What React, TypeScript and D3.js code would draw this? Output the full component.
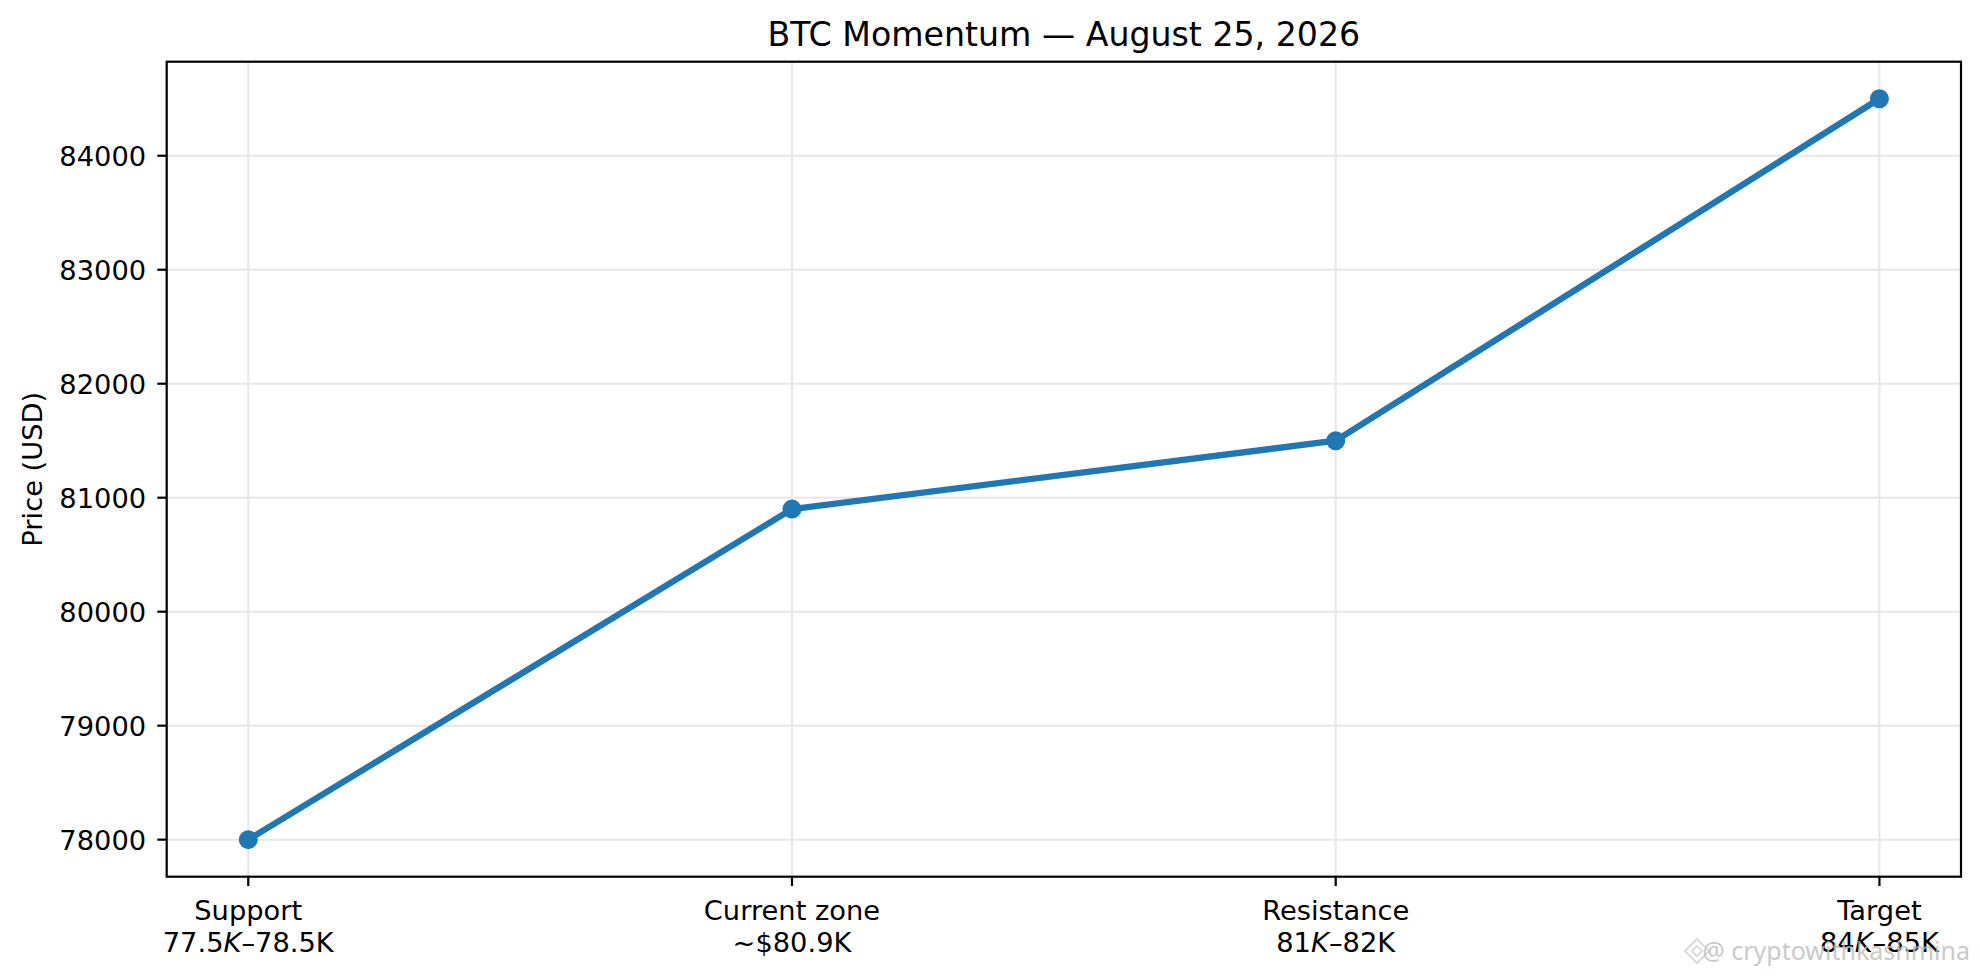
import * as d3 from 'd3';

// chart data
const levels = ['Support', 'Current zone', 'Resistance', 'Target'];
const ranges = ['$77.5K–$78.5K', '~$80.9K', '$81K–$82K', '$84K–$85K'];
const prices = [78000, 80900, 81500, 84500];
const yTicks = [78000, 79000, 80000, 81000, 82000, 83000, 84000];

const W = 1980;
const H = 977;
const margin = { left: 166.7, right: 19, top: 61.7, bottom: 100.3 };
const font = '"DejaVu Sans", sans-serif';
const blue = '#1f77b4';
const gridColor = '#e7e7e7';
const fs = 27.3;

// mimic matplotlib mathtext: text between a pair of $ is math, letters italic
function mathSegments(raw: string) {
  const count = (raw.match(/\$/g) || []).length;
  if (count < 2) return [{ text: raw, italic: false }];
  const parts = raw.split('$');
  const out: { text: string; italic: boolean }[] = [];
  parts.forEach((p, i) => {
    const isMath = i % 2 === 1 && i < parts.length - 1;
    if (!isMath) {
      if (p) out.push({ text: p, italic: false });
      return;
    }
    p.split(/([A-Za-z]+)/).forEach((s) => {
      if (s) out.push({ text: s, italic: /[A-Za-z]/.test(s) });
    });
  });
  return out;
}

export default function App() {
  const x = d3
    .scaleLinear()
    .domain([-0.15, levels.length - 1 + 0.15])
    .range([margin.left, W - margin.right]);

  const yMin = d3.min(prices)!;
  const yMax = d3.max(prices)!;
  const pad = (yMax - yMin) * 0.05;
  const y = d3
    .scaleLinear()
    .domain([yMin - pad, yMax + pad])
    .range([H - margin.bottom, margin.top]);

  const line = d3
    .line<number>()
    .x((_, i) => x(i))
    .y((d) => y(d));

  const [x0, x1] = x.range();
  const [yb, yt] = y.range();

  return (
    <svg
      width={W}
      height={H}
      viewBox={`0 0 ${W} ${H}`}
      style={{ position: 'absolute', left: 0, top: 0, background: '#fff' }}
      fontFamily={font}
    >
      <rect x={0} y={0} width={W} height={H} fill='#fff' />

      {/* grid */}
      {yTicks.map((t) => (
        <line key={'gy' + t} x1={x0} x2={x1} y1={y(t)} y2={y(t)} stroke={gridColor} strokeWidth={2} />
      ))}
      {levels.map((_, i) => (
        <line key={'gx' + i} x1={x(i)} x2={x(i)} y1={yt} y2={yb} stroke={gridColor} strokeWidth={2} />
      ))}

      {/* series */}
      <path d={line(prices) ?? ''} fill='none' stroke={blue} strokeWidth={6.3} strokeLinejoin='round' strokeLinecap='butt' />
      {prices.map((p, i) => (
        <circle key={'pt' + i} cx={x(i)} cy={y(p)} r={9.5} fill={blue} />
      ))}

      {/* spines */}
      <rect x={x0} y={yt} width={x1 - x0} height={yb - yt} fill='none' stroke='#000' strokeWidth={2.2} />

      {/* y axis */}
      {yTicks.map((t) => (
        <g key={'ty' + t}>
          <line x1={x0 - 9.4} x2={x0} y1={y(t)} y2={y(t)} stroke='#000' strokeWidth={2.2} />
          <text x={x0 - 20.5} y={y(t) + 9.9} textAnchor='end' fontSize={fs} fill='#000'>
            {t}
          </text>
        </g>
      ))}
      <text
        transform={`translate(${42},${(yt + yb) / 2}) rotate(-90)`}
        textAnchor='middle'
        fontSize={fs}
        fill='#000'
      >
        Price (USD)
      </text>

      {/* x axis */}
      {levels.map((lv, i) => (
        <g key={'tx' + i}>
          <line x1={x(i)} x2={x(i)} y1={yb} y2={yb + 9.4} stroke='#000' strokeWidth={2.2} />
          <text x={x(i)} y={919.5} textAnchor='middle' fontSize={fs} fill='#000'>
            {lv}
          </text>
          <text x={x(i)} y={951.5} textAnchor='middle' fontSize={fs} fill='#000'>
            {mathSegments(ranges[i]).map((s, k) => (
              <tspan key={k} fontStyle={s.italic ? 'italic' : 'normal'}>
                {s.text}
              </tspan>
            ))}
          </text>
        </g>
      ))}

      {/* title */}
      <text x={(x0 + x1) / 2} y={45.7} textAnchor='middle' fontSize={33.2} fill='#000'>
        BTC Momentum — August 25, 2026
      </text>

      {/* watermark */}
      <g opacity={0.8}>
        <g transform='translate(1697,951)' fill='none' stroke='#c8c8c8' strokeWidth={1.6}>
          <path d='M0,-12 L12,0 L0,12 L-12,0 Z' />
          <path d='M0,-5 L5,0 L0,5 L-5,0 Z' />
        </g>
        <text x={1970} y={960} textAnchor='end' fontSize={25} fontFamily='"Noto Sans", sans-serif' fill='#bdbdbd'>
          @ cryptowithkashmina
        </text>
      </g>
    </svg>
  );
}
